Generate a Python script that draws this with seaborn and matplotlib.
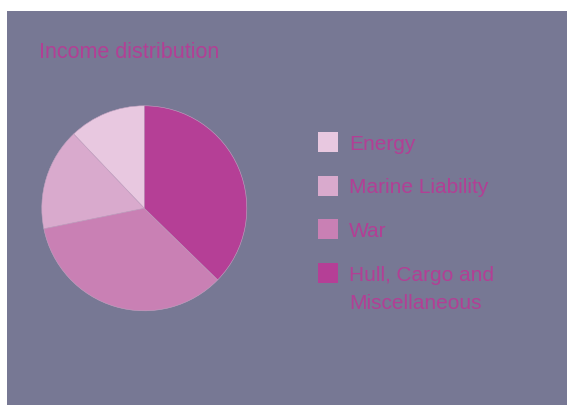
import matplotlib
matplotlib.use("Agg")
import matplotlib.pyplot as plt
import seaborn as sns
from matplotlib.patches import Rectangle

sns.set_theme(style="white")
plt.rcParams['font.family'] = ['Liberation Sans', 'DejaVu Sans']

# data (legend order, pie drawn counter-clockwise from 12 o'clock)
categories = ["Energy", "Marine Liability", "War", "Hull, Cargo and\nMiscellaneous"]
shares = [12.1, 16.1, 34.5, 37.3]
colors = ["#E8C8E0", "#D9AACD", "#C980B4", "#B53F96"]

bg = "#777894"
text_col = "#B23F95"
W, H = 569, 405


def fx(x):
    return x / W


def fy(y):
    return 1 - y / H


fig = plt.figure(figsize=(W / 100, H / 100), dpi=100, facecolor="white")

# slate panel behind everything
fig.add_artist(Rectangle((fx(7), 0), 560 / W, 394 / H, transform=fig.transFigure,
                         facecolor=bg, edgecolor="none", zorder=-10))

ax = fig.add_axes([fx(41.8), 94.2 / H, 205 / W, 205 / H])
ax.set_facecolor("none")
wedges, _ = ax.pie(shares, colors=colors, startangle=90, counterclock=True,
                   wedgeprops=dict(linewidth=0.4, edgecolor="#c4a3c2"))
ax.set_xlim(-1, 1)
ax.set_ylim(-1, 1)
ax.set_aspect("equal")
ax.axis("off")

fig.text(fx(39), fy(57.5), "Income distribution", color=text_col,
         fontsize=15.5, ha="left", va="baseline")

# legend: square key + label, one row per category
key_top, step, key, line_h = 132, 43.7, 20, 28
for i, (cat, col) in enumerate(zip(categories, colors)):
    top = key_top + i * step
    fig.add_artist(Rectangle((fx(318), fy(top + key)), key / W, key / H,
                             transform=fig.transFigure, facecolor=col,
                             edgecolor="none"))
    for j, line in enumerate(cat.split("\n")):
        fig.text(fx(349), fy(top + 17.5 + j * line_h), line, color=text_col,
                 fontsize=15, ha="left", va="baseline")

fig.savefig("out.png", dpi=100, facecolor="white")
